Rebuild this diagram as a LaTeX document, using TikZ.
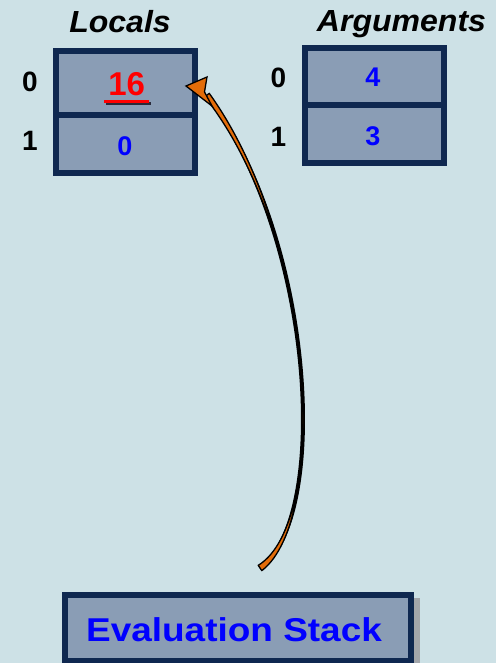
\documentclass[tikz,border=0pt]{standalone}
\usepackage{fontspec}
\setmainfont{Liberation Sans}
\usetikzlibrary{calc}
\definecolor{bg}{HTML}{CDE1E6}
\definecolor{cellfill}{HTML}{8A9DB5}
\definecolor{navy}{HTML}{0F2850}
\definecolor{arroworange}{HTML}{E36C09}
\definecolor{txtshadow}{HTML}{2A2A3A}
\definecolor{boxshadow}{HTML}{A3A6AA}
\begin{document}
\begin{tikzpicture}[x=1pt,y=-1pt,
  cell/.style={draw=navy, line width=6pt, fill=cellfill, inner sep=0pt, outer sep=0pt},
  title/.style={font=\fontsize{30.5}{36}\selectfont\bfseries\itshape, anchor=base, inner sep=0pt},
  idx/.style={font=\fontsize{28}{32}\selectfont\bfseries, anchor=base, inner sep=0pt},
  val/.style={font=\fontsize{27}{32}\selectfont\bfseries, anchor=base, inner sep=0pt, text=blue}]
\fill[bg] (0,0) rectangle (496,663);
\useasboundingbox (0,0) rectangle (496,663);

% Locals
\node[title] (loctitle) at (120,33) {\scalebox{1.05}[1]{Locals}};
\node[cell, minimum width=139pt, minimum height=64pt] (l0) at (125.5,83.5) {};
\node[cell, minimum width=139pt, minimum height=57.5pt] (l1) at (125.5,144.25) {};
\node[idx] (li0) at (30,91.7) {0};
\node[idx] (li1) at (30,150) {1};
\draw[txtshadow, line width=2.5pt] (105.5,103.3) -- (150.5,103.3);
\draw[red, line width=2.5pt] (104,101.3) -- (149,101.3);
\node[val, text=red, font=\fontsize{33}{38}\selectfont\bfseries] (lv0) at (126.7,96) {16};
\node[val] (lv1) at (125,155.5) {0};

% Arguments
\node[title] (argtitle) at (401.5,32) {\scalebox{1.05}[1]{Arguments}};
\node[cell, minimum width=138.5pt, minimum height=57pt] (a0) at (374.25,77) {};
\node[cell, minimum width=138.5pt, minimum height=58pt] (a1) at (374.25,134.5) {};
\node[idx] (ai0) at (278.5,88) {0};
\node[idx] (ai1) at (278.5,147) {1};
\node[val] (av0) at (373,86.5) {4};
\node[val] (av1) at (373,145.5) {3};

% Evaluation stack
\fill[boxshadow] (68,598) rectangle (420,670);
\node[cell, minimum width=346pt, minimum height=65.5pt] (eval) at (238,627.75) {};
\node[anchor=base, inner sep=0pt, text=blue, font=\fontsize{33}{38}\selectfont\bfseries] (evaltext) at (234,641.5) {\scalebox{1.12}[1]{Evaluation Stack}};

% curved arrow
\coordinate (tail) at (260,568);
\coordinate (c1) at (330,520);
\coordinate (c2) at (316,240);
\coordinate (neck) at (207,95);
\coordinate (tip) at (186,86);
\draw[black, line width=4pt] (tail) .. controls (c1) and (c2) .. (neck);
\filldraw[fill=arroworange, draw=black, line width=1.3pt, line join=round]
  (261.81,570.64) .. controls (329.40,519.12) and (315.25,240.56) .. (209.24,93.32)
  -- (204.76,96.68) .. controls (316.75,239.44) and (330.60,520.88) .. (258.19,565.36) -- cycle;
\filldraw[fill=arroworange, draw=black, line width=1.3pt, line join=miter]
  (tip) -- (207,77) -- (204.5,92) -- (212,106) -- cycle;
\end{tikzpicture}
\end{document}
